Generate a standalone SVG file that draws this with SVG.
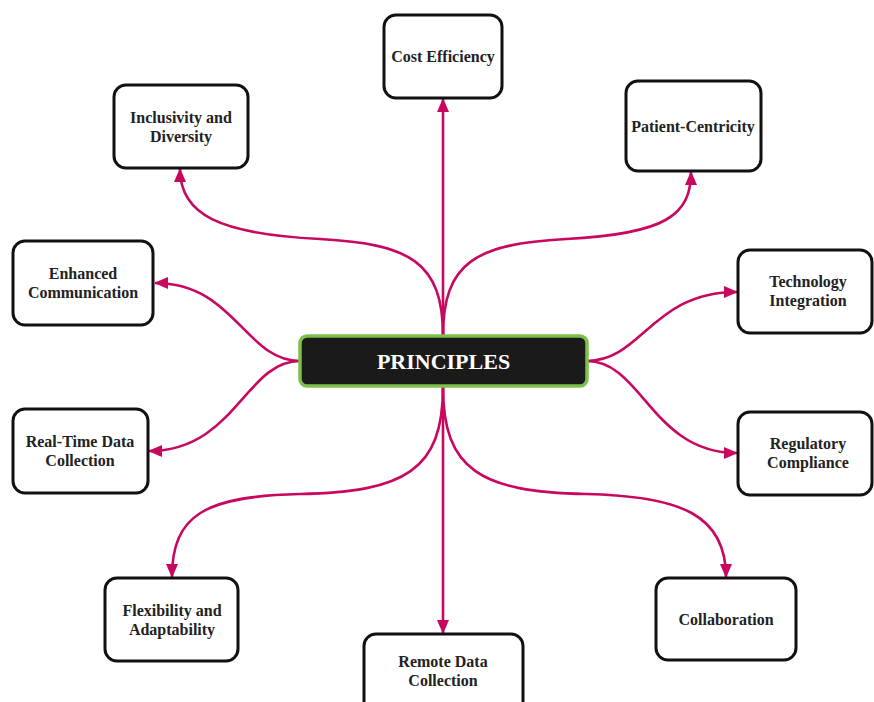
<svg xmlns="http://www.w3.org/2000/svg" width="874" height="702" viewBox="0 0 874 702">
<defs>
<style>
.box{fill:#fff;stroke:#111;stroke-width:3}
.t{font-family:"Liberation Serif","Times New Roman",serif;font-weight:bold;font-size:16px;fill:#222;text-anchor:middle}
.c{fill:none;stroke:#c8085f;stroke-width:2.6;marker-end:url(#ah)}
</style>
<marker id="ah" markerUnits="userSpaceOnUse" markerWidth="14" markerHeight="12" refX="13" refY="6" orient="auto">
<path d="M0,0 L14,6 L0,12 Z" fill="#c8085f"/>
</marker>
</defs>
<rect width="874" height="702" fill="#fff"/>
<g id="connectors">
<path class="c" d="M443,336 L443,99"/>
<path class="c" d="M443,387 L443,633"/>
<path class="c" d="M443,336 C443,262 410,244 320,239 C220,234 180,215 180,169"/>
<path class="c" d="M443,336 C443,262 476,244 566,239 C666,234 691,215 691,172"/>
<path class="c" d="M300,361 C245,361 235,283 155,283"/>
<path class="c" d="M300,361 C245,361 235,451 149,451"/>
<path class="c" d="M587,361 C642,361 652,292 737,292"/>
<path class="c" d="M587,361 C642,361 652,453 737,453"/>
<path class="c" d="M443,387 C443,470 405,492 300,494 C205,496 172,515 172,577"/>
<path class="c" d="M443,387 C443,470 481,492 586,494 C681,496 726,515 726,577"/>
</g>
<g id="principles">
<rect x="300" y="336" width="287" height="50" rx="7" fill="#1a1a1a" stroke="#7cc04a" stroke-width="3.5"/>
<text x="443.5" y="369" font-family="Liberation Serif,'Times New Roman',serif" font-weight="bold" font-size="22" fill="#fff" text-anchor="middle">PRINCIPLES</text>
</g>
<g id="cost-efficiency">
<rect class="box" x="384" y="15" width="118" height="83" rx="12"/>
<text class="t" x="443" y="62">Cost Efficiency</text>
</g>
<g id="inclusivity">
<rect class="box" x="114" y="85" width="134" height="83" rx="12"/>
<text class="t" x="181" y="123">Inclusivity and</text>
<text class="t" x="181" y="142">Diversity</text>
</g>
<g id="patient-centricity">
<rect class="box" x="626" y="81" width="135" height="90" rx="12"/>
<text class="t" x="693" y="132">Patient-Centricity</text>
</g>
<g id="enhanced-communication">
<rect class="box" x="13" y="241" width="140" height="84" rx="12"/>
<text class="t" x="83" y="279">Enhanced</text>
<text class="t" x="83" y="298">Communication</text>
</g>
<g id="technology-integration">
<rect class="box" x="738" y="250" width="134" height="83" rx="12"/>
<text class="t" x="808" y="287">Technology</text>
<text class="t" x="808" y="306">Integration</text>
</g>
<g id="real-time">
<rect class="box" x="13" y="409" width="135" height="84" rx="12"/>
<text class="t" x="80" y="447">Real-Time Data</text>
<text class="t" x="80" y="466">Collection</text>
</g>
<g id="regulatory-compliance">
<rect class="box" x="738" y="412" width="134" height="83" rx="12"/>
<text class="t" x="808" y="449">Regulatory</text>
<text class="t" x="808" y="468">Compliance</text>
</g>
<g id="flexibility">
<rect class="box" x="105" y="578" width="133" height="83" rx="12"/>
<text class="t" x="172" y="616">Flexibility and</text>
<text class="t" x="172" y="635">Adaptability</text>
</g>
<g id="remote-data">
<rect class="box" x="364" y="634" width="159" height="80" rx="12"/>
<text class="t" x="443" y="667">Remote Data</text>
<text class="t" x="443" y="686">Collection</text>
</g>
<g id="collaboration">
<rect class="box" x="656" y="578" width="140" height="82" rx="12"/>
<text class="t" x="726" y="625">Collaboration</text>
</g>
</svg>
